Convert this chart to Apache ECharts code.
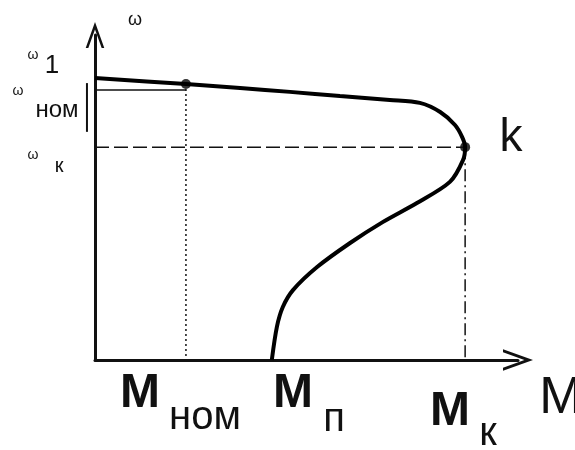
<!DOCTYPE html>
<html>
<head>
<meta charset="utf-8">
<script src="https://cdn.jsdelivr.net/npm/echarts@6/dist/echarts.min.js"></script>
<style>
  html, body { margin: 0; padding: 0; background: #fff; }
  #chart { width: 575px; height: 450px; }
</style>
</head>
<body>
<div id="chart"></div>
<script>
// механическая характеристика асинхронного двигателя, ω(M)
const curveM = [0, 21.5, 34.3, 46.1, 57.9, 69.7, 76.8, 81.6, 85.1, 86.8, 87.5, 87.0, 83.9, 76.1, 68.1, 60.3, 52.5, 46.8, 44.4, 43.0, 41.8]
const curveW = [86.8, 84.9, 83.7, 82.5, 81.2, 80.0, 79.1, 76.3, 72.3, 68.6, 65.5, 61.5, 54.8, 48.3, 42.5, 36.0, 28.6, 21.5, 16.3, 10.2, 0]

// характерные точки
const mNom = 21.5
const wNomPoint = 84.9
const wNom = 83.1
const mK = 87.5
const wK = 65.5
const mP = 41.8
const markBarW = [70.2, 85.2]
const markBarM = -1.9

const chevron = 'path://M5,0 L10,14 L8.6,14 L5,4 L1.4,14 L0,14 Z'
const font = "'Liberation Sans', Arial, sans-serif"

const chart = echarts.init(document.getElementById('chart'))

function txt(text, x, y, size, weight) {
  return {
    type: 'text',
    x: x,
    y: y,
    style: {
      text: text,
      fontSize: size,
      fontWeight: weight || 'normal',
      fontFamily: font,
      fill: '#111',
      textAlign: 'center',
      textVerticalAlign: 'middle',
      align: 'center',
      verticalAlign: 'middle'
    }
  }
}

const thin = { color: '#111', width: 1.5 }

const labels = [
  txt('ω', 135, 20, 18),
  txt('ω', 33, 55, 14),
  txt('1', 52, 66, 26),
  txt('ω', 18, 91, 14),
  txt('ном', 57, 110, 24),
  txt('ω', 33, 155, 14),
  txt('к', 59, 166, 20),
  txt('k', 511, 138, 46),
  txt('M', 140, 394, 48, 'bold'),
  txt('ном', 205, 418, 40),
  txt('M', 293, 394, 48, 'bold'),
  txt('п', 334, 420, 40),
  txt('M', 450, 412, 48, 'bold'),
  txt('к', 488, 434, 40),
  txt('M', 561, 399, 52)
]

chart.setOption({
  animation: false,
  grid: { left: 95, right: 57, top: 35, bottom: 90 },
  xAxis: {
    type: 'value',
    min: 0,
    max: 100,
    axisLine: {
      show: true,
      symbol: ['none', chevron],
      symbolSize: [22, 30],
      lineStyle: { color: '#111', width: 3 }
    },
    axisTick: { show: false },
    axisLabel: { show: false },
    splitLine: { show: false }
  },
  yAxis: {
    type: 'value',
    min: 0,
    max: 100,
    axisLine: {
      show: true,
      symbol: ['none', chevron],
      symbolSize: [22, 26],
      lineStyle: { color: '#111', width: 3 }
    },
    axisTick: { show: false },
    axisLabel: { show: false },
    splitLine: { show: false }
  },
  series: [
    {
      // ω ном, тонкая линия
      type: 'line',
      data: [[0, wNom], [mNom, wNom]],
      symbol: 'none',
      lineStyle: thin
    },
    {
      // ω к, пунктир
      type: 'line',
      data: [[0, wK], [mK, wK]],
      symbol: 'none',
      lineStyle: { color: '#111', width: 1.5, type: [14, 5] }
    },
    {
      // M ном, точки
      type: 'line',
      data: [[mNom, wNomPoint], [mNom, 0]],
      symbol: 'none',
      lineStyle: { color: '#111', width: 1.5, type: [2, 3] }
    },
    {
      // M к, штрихпунктир
      type: 'line',
      data: [[mK, wK], [mK, 0]],
      symbol: 'none',
      lineStyle: { color: '#111', width: 1.5, type: [12, 4, 2, 4] }
    },
    {
      type: 'line',
      data: curveM.map((m, i) => [m, curveW[i]]),
      symbol: 'none',
      smooth: 0.3,
      lineStyle: { color: '#000', width: 4 }
    },
    {
      type: 'scatter',
      data: [[mNom, wNomPoint], [mK, wK]],
      symbolSize: 10,
      itemStyle: { color: '#000' }
    }
  ],
  graphic: labels
})

// чёрточка у оси ω (левее оси, поэтому через convertToPixel)
const p1 = chart.convertToPixel({ gridIndex: 0 }, [markBarM, markBarW[0]])
const p2 = chart.convertToPixel({ gridIndex: 0 }, [markBarM, markBarW[1]])
chart.setOption({
  graphic: labels.concat([{
    type: 'line',
    shape: { x1: p1[0], y1: p1[1], x2: p2[0], y2: p2[1] },
    style: { stroke: '#111', lineWidth: 2 }
  }])
})
</script>
</body>
</html>
